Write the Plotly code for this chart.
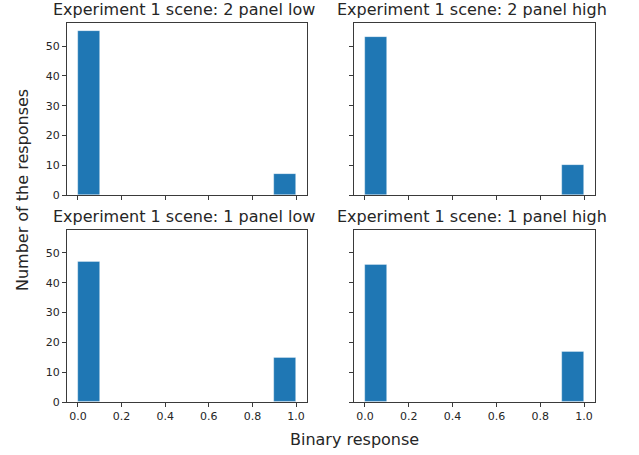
import plotly.graph_objects as go

W, H = 639, 455

# Histogram bins (10 bins of width 0.1 from 0 to 1)
bin_centers = [0.05, 0.15, 0.25, 0.35, 0.45, 0.55, 0.65, 0.75, 0.85, 0.95]
bin_width = 0.1

titles = [
    "Experiment 1 scene: 2 panel low",
    "Experiment 1 scene: 2 panel high",
    "Experiment 1 scene: 1 panel low",
    "Experiment 1 scene: 1 panel high",
]
counts_2_low = [55, 0, 0, 0, 0, 0, 0, 0, 0, 7]
counts_2_high = [53, 0, 0, 0, 0, 0, 0, 0, 0, 10]
counts_1_low = [47, 0, 0, 0, 0, 0, 0, 0, 0, 15]
counts_1_high = [46, 0, 0, 0, 0, 0, 0, 0, 0, 17]
all_counts = [counts_2_low, counts_2_high, counts_1_low, counts_1_high]

x_ticks = [0.0, 0.2, 0.4, 0.6, 0.8, 1.0]
y_ticks = [0, 10, 20, 30, 40, 50]

# pixel geometry of the axes boxes (left, right, top, bottom)
cols_px = [(67, 307), (354, 595)]
rows_px = [(23.3, 198.3), (233.3, 408.3)]

def px_x(x):
    return x / W

def px_y(y):
    return 1 - y / H

fig = go.Figure()
FONT = "DejaVu Sans"
TEXT = "#262626"
SPINE = "#3a3a3a"

ymax = max(max(c) for c in all_counts) * 1.05

annotations = []
for i, counts in enumerate(all_counts):
    r, c = divmod(i, 2)
    n = i + 1
    xa = "x" if n == 1 else f"x{n}"
    ya = "y" if n == 1 else f"y{n}"
    fig.add_trace(go.Bar(
        x=bin_centers, y=counts, width=[bin_width] * len(bin_centers),
        marker=dict(color="#1f77b4", line=dict(width=0.6, color="rgba(255,255,255,0.6)")),
        xaxis=xa, yaxis=ya, showlegend=False, hoverinfo="skip",
    ))
    l, rr = cols_px[c]
    t, b = rows_px[r]
    xkey = "xaxis" if n == 1 else f"xaxis{n}"
    ykey = "yaxis" if n == 1 else f"yaxis{n}"
    fig.update_layout(**{
        xkey: dict(
            domain=[px_x(l), px_x(rr)], anchor=ya, range=[-0.05, 1.05],
            tickvals=x_ticks, ticktext=[f"{v:.1f}" for v in x_ticks],
            showticklabels=(r == 1), ticks="outside", ticklen=4, tickwidth=1,
            tickcolor=SPINE, showline=True, linecolor=SPINE, linewidth=1, mirror=True,
            showgrid=False, zeroline=False,
            tickfont=dict(family=FONT, size=11, color=TEXT),
        ),
        ykey: dict(
            domain=[px_y(b), px_y(t)], anchor=xa, range=[0, ymax],
            tickvals=y_ticks, showticklabels=(c == 0), ticks="outside",
            ticklen=4, tickwidth=1, tickcolor=SPINE,
            showline=True, linecolor=SPINE, linewidth=1, mirror=True,
            showgrid=False, zeroline=False,
            tickfont=dict(family=FONT, size=11, color=TEXT),
        ),
    })
    annotations.append(dict(
        text=titles[i], xref="paper", yref="paper",
        x=px_x((l + rr) / 2 - 3), y=px_y(t - 2), xanchor="center", yanchor="bottom",
        showarrow=False, font=dict(family=FONT, size=16, color=TEXT),
    ))

annotations.append(dict(
    text="Binary response", xref="paper", yref="paper",
    x=px_x(354), y=px_y(446), xanchor="center", yanchor="middle",
    showarrow=False, font=dict(family=FONT, size=16, color=TEXT),
))
annotations.append(dict(
    text="Number of the responses", xref="paper", yref="paper",
    x=px_x(22), y=px_y(193), xanchor="center", yanchor="middle", textangle=-90,
    showarrow=False, font=dict(family=FONT, size=16, color=TEXT),
))

fig.update_layout(
    width=W, height=H, margin=dict(l=0, r=0, t=0, b=0),
    paper_bgcolor="white", plot_bgcolor="white",
    annotations=annotations, bargap=0,
)

fig.write_html("out.html")
